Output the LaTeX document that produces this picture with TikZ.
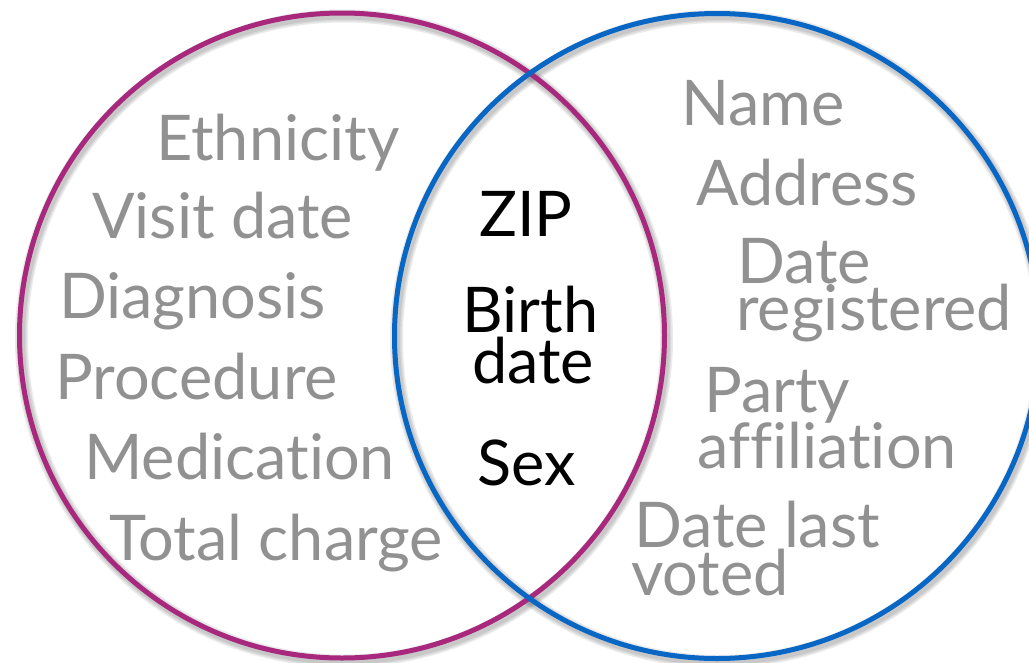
\documentclass[tikz,border=0pt]{standalone}
\usepackage{fontspec}
\setmainfont{Lato}[Ligatures=NoCommon]
\definecolor{pinkc}{RGB}{167,40,125}
\definecolor{bluec}{RGB}{8,102,196}
\definecolor{greyt}{RGB}{145,145,145}
\begin{document}
\begin{tikzpicture}[x=1pt,y=-1pt,
  item/.style={anchor=base west,inner sep=0pt,text=greyt,font=\fontsize{63}{63}\selectfont},
  key/.style={item,text=black},
  ring/.style={line width=5pt},
  shade/.style={line width=#1,draw=black,opacity=0.08}]
\useasboundingbox (0,0) rectangle (1029,662);
\clip (0,0) rectangle (1029,662);
\coordinate (cl) at (342,335.5);
\coordinate (cr) at (717,336);
\foreach \w in {13pt,10pt,7pt}{
  \draw[shade=\w] ([shift={(2,3)}]cl) circle[radius=322.5];
  \draw[shade=\w] ([shift={(2,3)}]cr) circle[radius=322.5];
}
\draw[ring,draw=pinkc] (cl) circle[radius=322.5];
\draw[ring,draw=bluec] (cr) circle[radius=322.5];
% left set
\node[item] (eth) at (156,160) {Ethnicity};
\node[item] (vis) at (92,238) {Visit date};
\node[item] (dia) at (59,318) {Diagnosis};
\node[item] (pro) at (55,399) {Procedure};
\node[item] (med) at (84,479) {Medication};
\node[item] (tot) at (109,560) {Total charge};
% overlap
\node[key] (zip) at (479,236) {ZIP};
\node[key] (bir) at (462,332) {Birth};
\node[key] (bda) at (472,383) {date};
\node[key] (sex) at (477,485) {Sex};
% right set
\node[item] (nam) at (681,125) {Name};
\node[item] (add) at (696,205) {Address};
\node[item] (dr1) at (737,283) {Date};
\node[item] (dr2) at (736,330) {registered};
\node[item] (pa1) at (704,412) {Party};
\node[item] (pa2) at (697,468) {affiliation};
\node[item] (dl1) at (634,547) {Date last};
\node[item] (dl2) at (631,595) {voted};
\end{tikzpicture}
\end{document}
